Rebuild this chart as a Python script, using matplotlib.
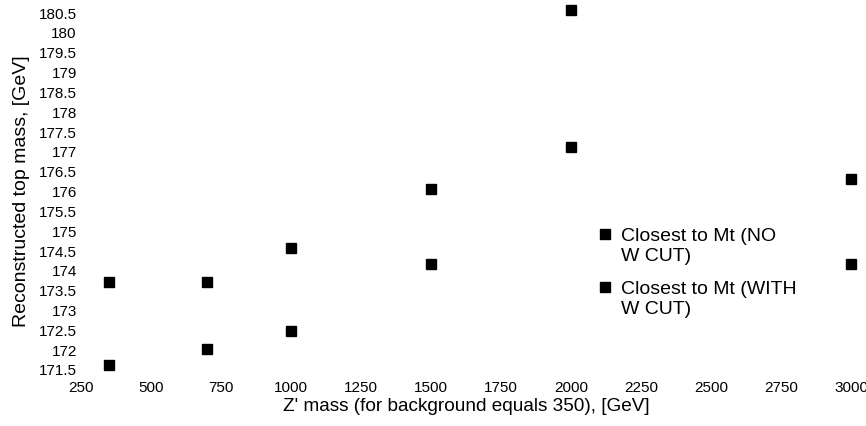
import matplotlib.pyplot as plt
import matplotlib.transforms as mtransforms

plt.rcParams['font.family'] = ['Liberation Sans', 'DejaVu Sans']

# Z' mass values
z_mass = [350, 700, 1000, 1500, 2000, 3000]

# reconstructed top mass
no_w_cut = [173.7, 173.7, 174.55, 176.05, 177.1, 176.3]
with_w_cut = [171.6, 172.0, 172.45, 174.15, 180.55, 174.15]

labels = ['Closest to Mt (NO\nW CUT)', 'Closest to Mt (WITH\nW CUT)']

fig = plt.figure(figsize=(8.66, 4.27), dpi=100)
ax = fig.add_axes([0.0935, 0.1335, 0.8892, 0.836])

ax.plot(z_mass, no_w_cut, 's', color='black', markersize=7.5, clip_on=False, label=labels[0])
ax.plot(z_mass, with_w_cut, 's', color='black', markersize=7.5, clip_on=False, label=labels[1])

ax.set_xlim(250, 3000)
ax.set_ylim(171.5, 180.5)
ax.set_xticks(range(250, 3001, 250))
yt = [171.5 + 0.5 * i for i in range(19)]
ax.set_yticks(yt)
ax.set_yticklabels(['%g' % v for v in yt])
ax.tick_params(length=0, labelsize=11)
ax.tick_params(axis='x', pad=8)
ax.tick_params(axis='y', pad=3)

for s in ax.spines.values():
    s.set_visible(False)

ax.set_xlabel("Z' mass (for background equals 350), [GeV]", fontsize=13.7, labelpad=2)
ax.set_ylabel('Reconstructed top mass, [GeV]', fontsize=14, labelpad=6)

leg = ax.legend(loc='upper left', bbox_to_anchor=(0.672, 0.507), bbox_transform=fig.transFigure,
                frameon=False, fontsize=14, handlelength=0.6, handletextpad=0.5,
                labelspacing=0.85)
# put legend markers level with the first text line
shift = mtransforms.ScaledTranslation(0, 8 / 72, fig.dpi_scale_trans)
for h in leg.legend_handles:
    h.set_transform(h.get_transform() + shift)

fig.savefig('out.png', dpi=100)
